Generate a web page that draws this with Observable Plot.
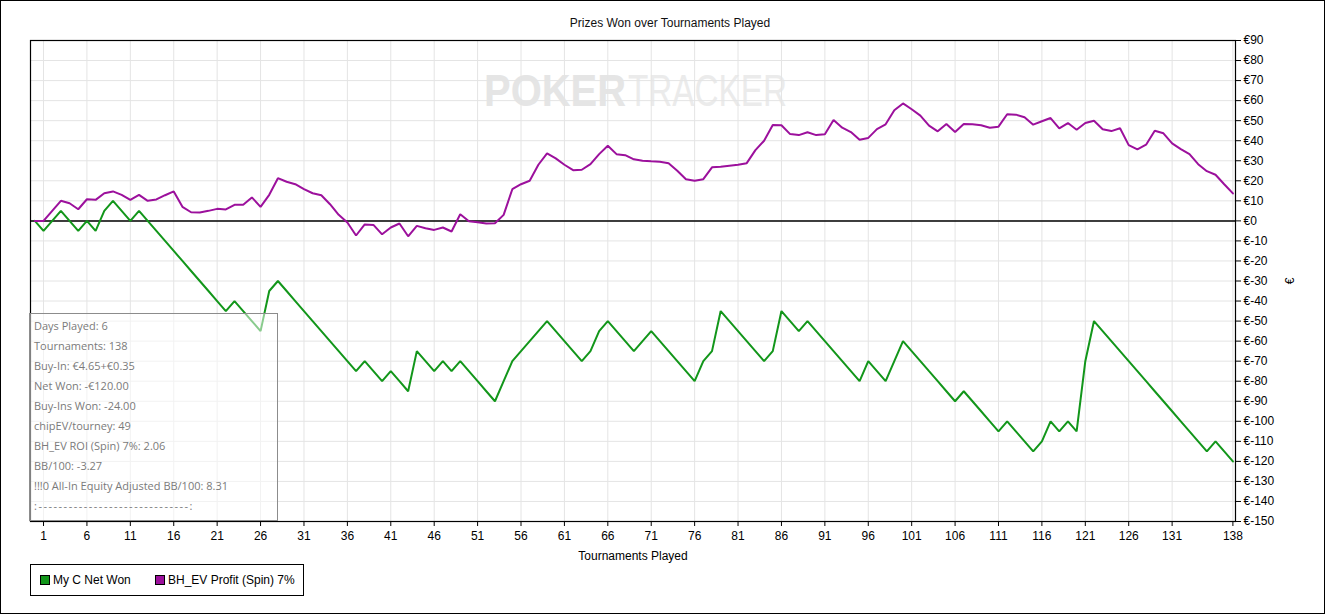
<!DOCTYPE html>
<html>
<head>
<meta charset="utf-8">
<script src="https://cdn.jsdelivr.net/npm/d3@7"></script>
<script src="https://cdn.jsdelivr.net/npm/@observablehq/plot@0.6"></script>
<style>
  html, body { margin: 0; padding: 0; background: white; }
  #wrap { position: relative; width: 1325px; height: 614px; overflow: hidden; font-family: "Liberation Sans", Arial, sans-serif; }
  #border { position: absolute; left: 0; top: 0; width: 1323px; height: 612px; border: 1px solid #000; pointer-events: none; z-index: 10; }
  #title { position: absolute; left: 0; width: 1340px; top: 16px; text-align: center; font-size: 12px; color: #111; z-index: 5; }
  #wm { position: absolute; left: 0; top: 0; z-index: 0; }
  #chart { position: absolute; left: 0; top: 0; z-index: 1; }
  #info { position: absolute; left: 29px; top: 313px; width: 247px; height: 206px; border: 1px solid #8c8c8c; background: rgba(255,255,255,0.5); z-index: 3; padding: 0; }
  #info div { position: absolute; left: 4px; font-family: "Open Sans", "Noto Sans", sans-serif; font-size: 11px; color: #7a7a7a; white-space: pre; line-height: 14px; }
  #info div.dash { letter-spacing: 1.5px; }
  #legend { position: absolute; left: 30px; top: 564px; width: 272px; height: 30px; border: 1px solid #000; z-index: 4; font-size: 12px; }
  #legend .sw { position: absolute; top: 10px; width: 8px; height: 8px; border: 1px solid #000; }
  #legend .lb { position: absolute; top: 8px; line-height: 14px; color: #000; white-space: pre; }
</style>
</head>
<body>
<div id="wrap">
  <svg id="wm" width="1325" height="614">
    <text x="484" y="106" font-family="Liberation Sans, Arial, sans-serif" font-size="44" font-weight="bold" fill="#e5e5e5" textLength="142" lengthAdjust="spacingAndGlyphs">POKER</text>
    <text x="628" y="106" font-family="Liberation Sans, Arial, sans-serif" font-size="44" fill="#ebebeb" textLength="159" lengthAdjust="spacingAndGlyphs">TRACKER</text>
  </svg>
  <div id="chart"></div>
  <div id="title">Prizes Won over Tournaments Played</div>
  <div id="info"></div>
  <div id="legend"></div>
  <div id="border"></div>
</div>
<script>
// ---- data ----
const seriesNames = ["My C Net Won", "BH_EV Profit (Spin) 7%"];
const seriesColors = ["#12961a", "#9c109c"];

const netWon = [
  0, -5, 0, 5, 0, -5, 0, -5, 5, 10,
  5, 0, 5, 0, -5, -10, -15, -20, -25, -30,
  -35, -40, -45, -40, -45, -50, -55, -35, -30, -35,
  -40, -45, -50, -55, -60, -65, -70, -75, -70, -75,
  -80, -75, -80, -85, -65, -70, -75, -70, -75, -70,
  -75, -80, -85, -90, -80, -70, -65, -60, -55, -50,
  -55, -60, -65, -70, -65, -55, -50, -55, -60, -65,
  -60, -55, -60, -65, -70, -75, -80, -70, -65, -45,
  -50, -55, -60, -65, -70, -65, -45, -50, -55, -50,
  -55, -60, -65, -70, -75, -80, -70, -75, -80, -70,
  -60, -65, -70, -75, -80, -85, -90, -85, -90, -95,
  -100, -105, -100, -105, -110, -115, -110, -100, -105, -100,
  -105, -70, -50, -55, -60, -65, -70, -75, -80, -85,
  -90, -95, -100, -105, -110, -115, -110, -115, -120
];

const evProfit = [
  0, 0, 5, 10, 8.8, 5.8, 10.8, 10.5, 13.8, 14.7,
  13, 10.5, 13, 10, 10.7, 12.8, 14.7, 7, 4.3, 4.2,
  5, 6, 5.7, 8, 8, 11.7, 7, 13, 21.3, 19.5,
  18.3, 15.8, 13.8, 12.8, 8.3, 3, -0.8, -7.3, -1.8, -2,
  -6.7, -3.3, -1.3, -7.7, -2.5, -3.7, -4.5, -3.3, -5.3, 3.3,
  -0.2, -0.7, -1.3, -1.2, 3, 15.8, 18.3, 20, 28, 33.7,
  31.2, 28, 25.3, 25.5, 28.3, 33.3, 37.5, 33.3, 32.8, 30.7,
  30, 29.7, 29.5, 28.7, 25, 20.8, 20, 20.8, 26.7, 27,
  27.5, 28, 28.8, 35.3, 40, 47.8, 47.7, 43.3, 42.8, 44.2,
  42.8, 43.2, 50.3, 46.5, 44.3, 40.5, 41.4, 45.8, 48.2, 55.2,
  58.6, 55.7, 52.5, 47.5, 44.7, 48.3, 44.3, 48.3, 48.2, 47.7,
  46.5, 47, 53.2, 53, 51.7, 48, 49.7, 51.3, 46.2, 48.8,
  45.5, 48.8, 50, 45.7, 44.8, 46.2, 37.8, 35.7, 38, 45,
  43.7, 38.7, 35.8, 33.3, 28.3, 24.8, 23, 18.3, 13.7
];

const xTickValues = [1, 6, 11, 16, 21, 26, 31, 36, 41, 46, 51, 56, 61, 66, 71, 76, 81, 86, 91, 96, 101, 106, 111, 116, 121, 126, 131, 138];
const yTickValues = [90, 80, 70, 60, 50, 40, 30, 20, 10, 0, -10, -20, -30, -40, -50, -60, -70, -80, -90, -100, -110, -120, -130, -140, -150];

const infoLines = [
  "Days Played: 6",
  "Tournaments: 138",
  "Buy-In: €4.65+€0.35",
  "Net Won: -€120.00",
  "Buy-Ins Won: -24.00",
  "chipEV/tourney: 49",
  "BH_EV ROI (Spin) 7%: 2.06",
  "BB/100: -3.27",
  "!!!0 All-In Equity Adjusted BB/100: 8.31",
  ":------------------------------:"
];

// ---- build ----
const rows = [];
netWon.forEach((v, i) => rows.push({t: i, v, s: seriesNames[0]}));
evProfit.forEach((v, i) => rows.push({t: i, v, s: seriesNames[1]}));

const chart = Plot.plot({
  width: 1325,
  height: 614,
  marginLeft: 30,
  marginRight: 90,
  marginTop: 40,
  marginBottom: 93,
  style: {fontFamily: "Liberation Sans, Arial, sans-serif", fontSize: "12px", background: "transparent", color: "#000"},
  x: {domain: [-0.5, 138.3]},
  y: {domain: [-150, 90]},
  color: {domain: seriesNames, range: seriesColors},
  marks: [
    Plot.gridX(xTickValues, {stroke: "#e4e4e4", strokeOpacity: 1}),
    Plot.gridY(yTickValues, {stroke: "#e4e4e4", strokeOpacity: 1}),
    Plot.ruleY([0], {stroke: "#000", strokeWidth: 1.5}),
    Plot.line(rows, {x: "t", y: "v", z: "s", stroke: "s", strokeWidth: 2, strokeLinejoin: "miter", curve: "linear"}),
    Plot.frame({stroke: "#000", strokeWidth: 1.2}),
    Plot.axisX(xTickValues, {tickSize: 5, tickPadding: 5, fontSize: 12, label: "Tournaments Played", labelAnchor: "center", labelArrow: "none", labelOffset: 38}),
    Plot.axisY(yTickValues, {anchor: "right", tickSize: 5, tickPadding: 3, fontSize: 12, tickFormat: d => "€" + d, label: "€", labelAnchor: "center", labelArrow: "none", labelOffset: 58})
  ]
});
document.getElementById("chart").appendChild(chart);

// info box
const info = document.getElementById("info");
infoLines.forEach((line, i) => {
  const d = document.createElement("div");
  d.textContent = line;
  if (i === infoLines.length - 1) d.className = "dash";
  d.style.top = (5 + i * 20) + "px";
  info.appendChild(d);
});

// legend
const legend = document.getElementById("legend");
const lx = [9, 124];
seriesNames.forEach((name, i) => {
  const sw = document.createElement("div");
  sw.className = "sw";
  sw.style.left = lx[i] + "px";
  sw.style.background = seriesColors[i];
  legend.appendChild(sw);
  const lb = document.createElement("div");
  lb.className = "lb";
  lb.style.left = (lx[i] + 13) + "px";
  lb.textContent = name;
  legend.appendChild(lb);
});
</script>
</body>
</html>
